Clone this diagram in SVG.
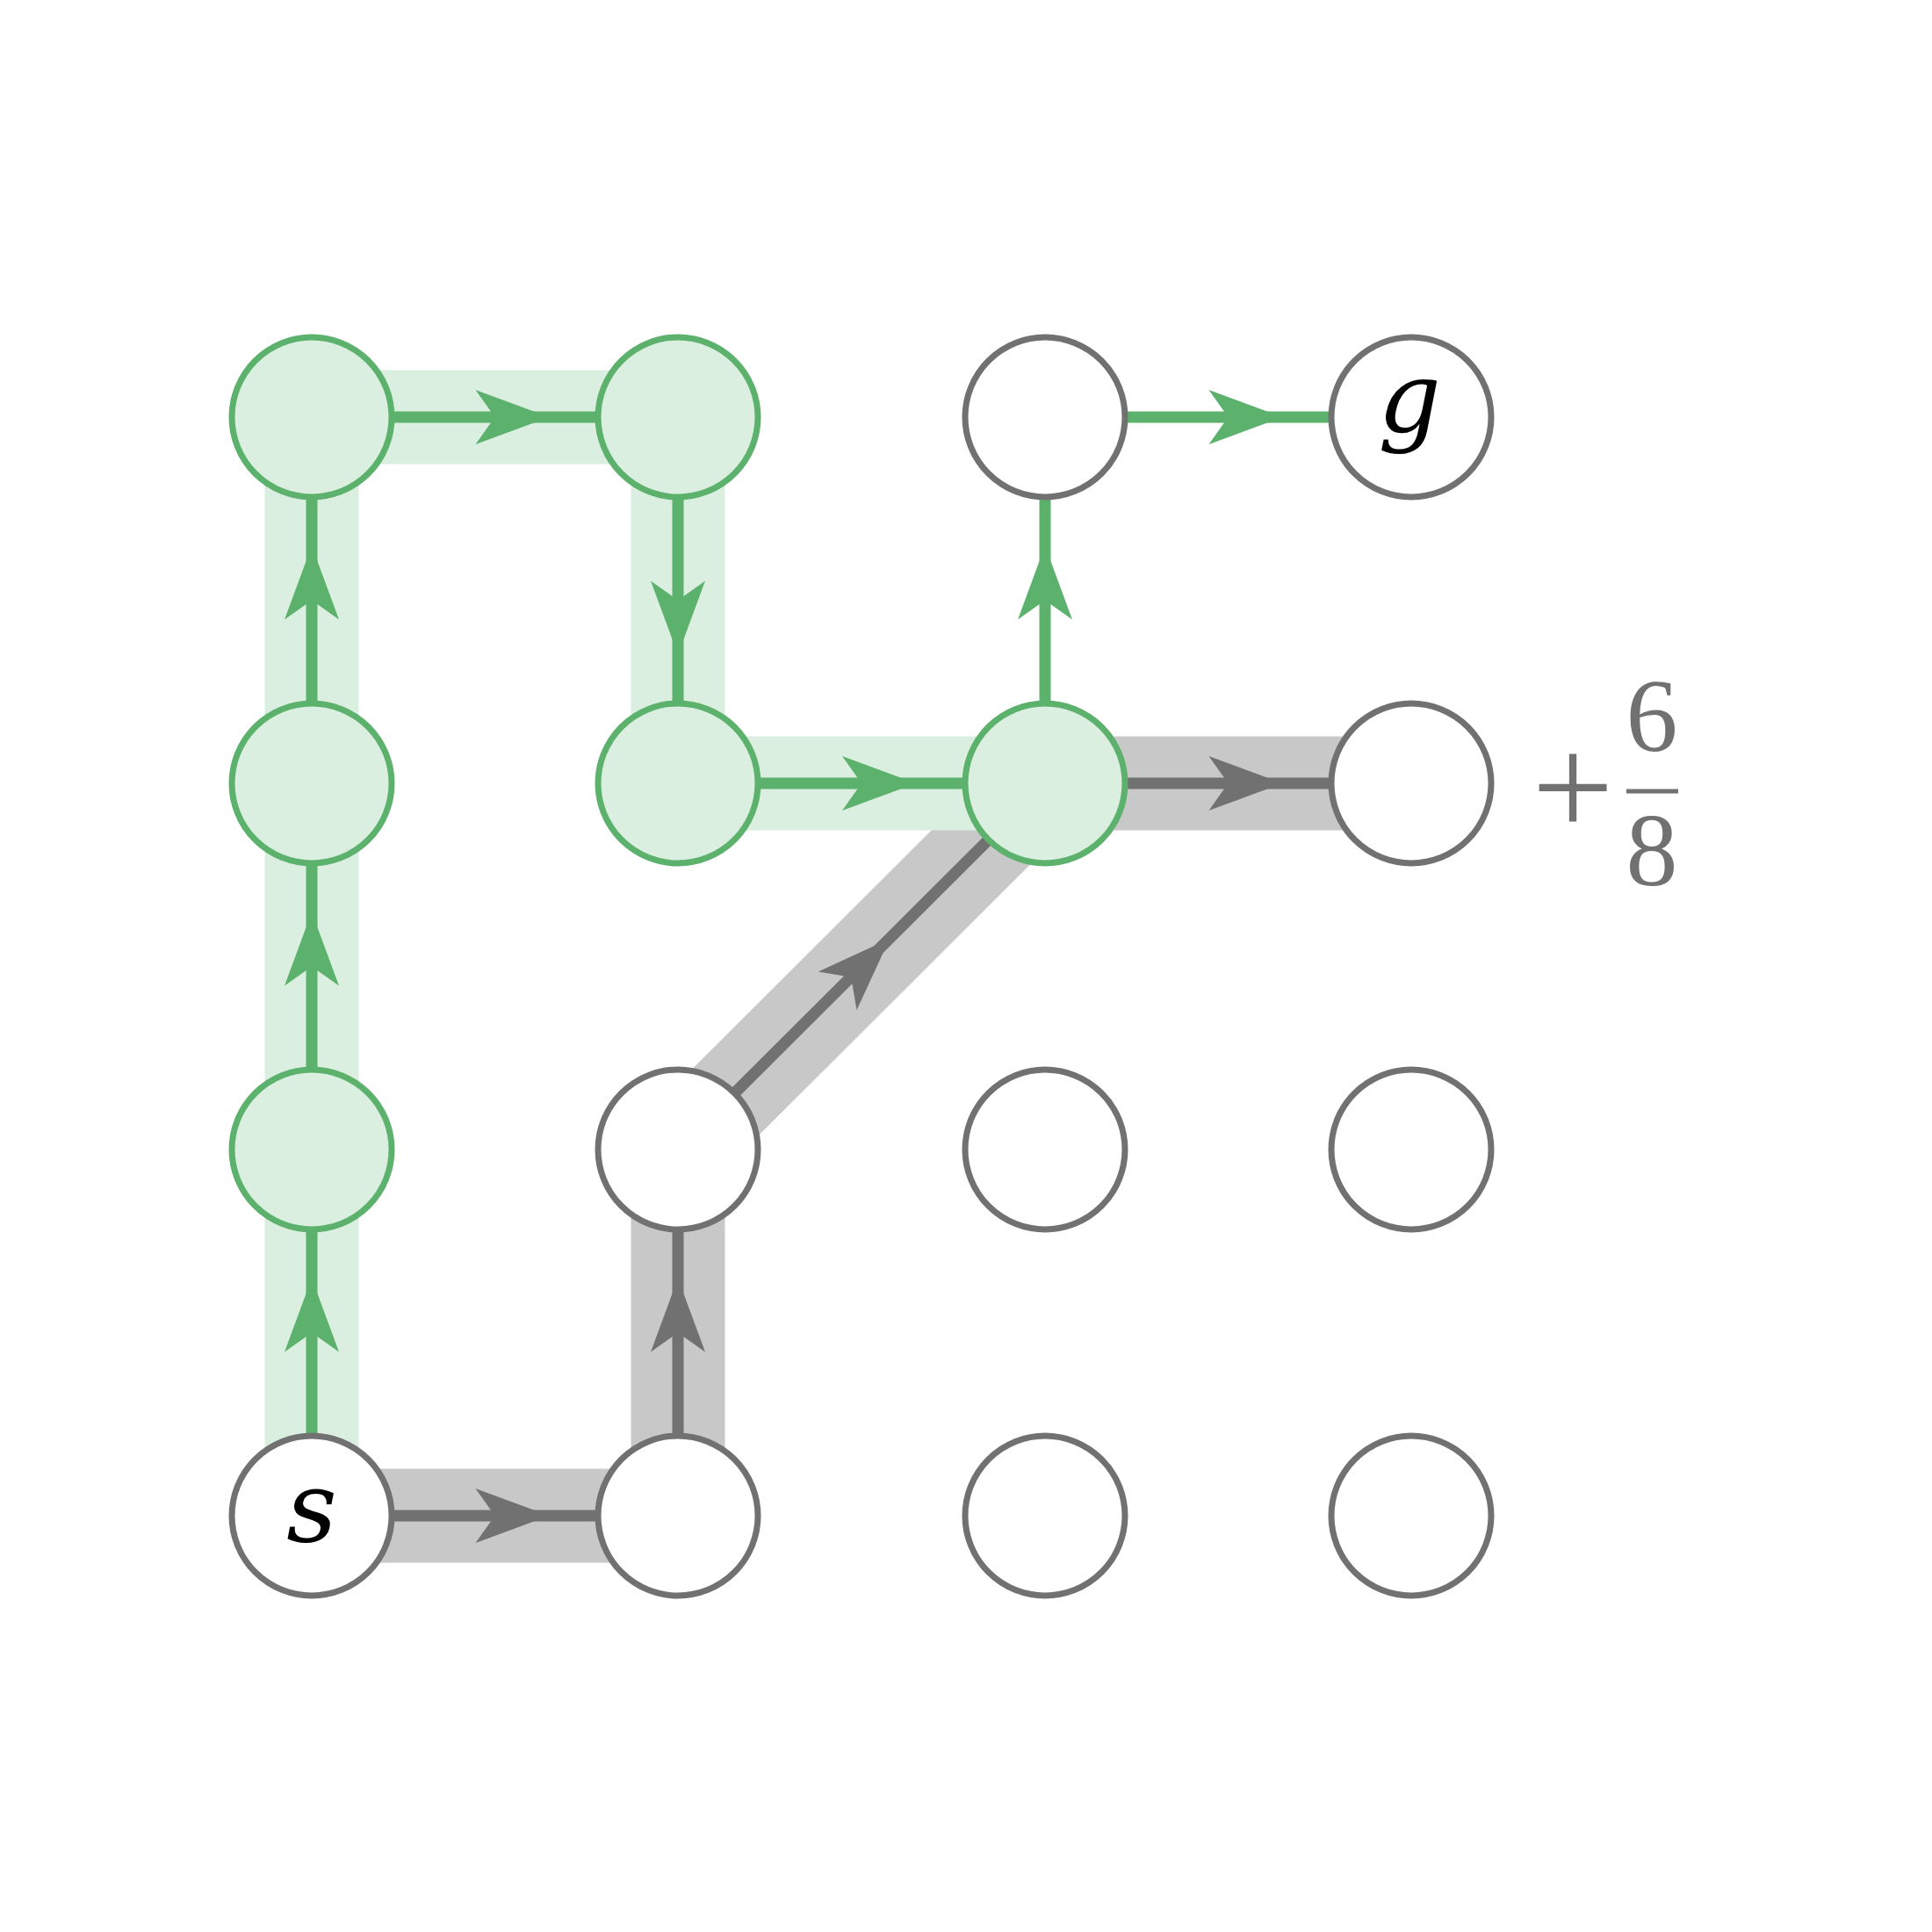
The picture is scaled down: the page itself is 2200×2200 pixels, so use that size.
<svg xmlns="http://www.w3.org/2000/svg" xmlns:xlink="http://www.w3.org/1999/xlink" width="2200" height="2200" viewBox="0 0 2200 2200">
  <defs>
    <style>
      .band-g { fill: none; stroke: #dbefe0; stroke-width: 107; stroke-linejoin: miter; }
      .band-k { fill: none; stroke: #c8c8c8; stroke-width: 107; stroke-linejoin: miter; }
      .edge-g { stroke: #5cb16d; stroke-width: 13; fill: none; }
      .edge-k { stroke: #717171; stroke-width: 13; fill: none; }
      .head-g { fill: #5cb16d; }
      .head-k { fill: #717171; }
      .node-g { fill: #dbefe0; stroke: #5cb16d; stroke-width: 7; }
      .node-w { fill: #ffffff; stroke: #717171; stroke-width: 7; }
      .lbl { font-family: "DejaVu Serif", "Liberation Serif", serif; font-style: italic; font-size: 112px; fill: #000000; text-anchor: middle; }
      .num { font-family: "Liberation Serif", "DejaVu Serif", serif; font-size: 118px; fill: #717171; text-anchor: middle; }
    </style>
    <path id="ah" d="M0,0 L-84,-31 L-62,0 L-84,31 Z"/>
  </defs>
  <rect width="2200" height="2200" fill="#ffffff"/>

  <g id="highlights">
    <polyline class="band-k" points="355,1726 772,1726 772,1309 1190,892 1607,892"/>
    <polyline class="band-g" points="355,1726 355,475 772,475 772,892 1190,892"/>
  </g>

  <g id="connectors">
    <line class="edge-g" x1="355" y1="1726" x2="355" y2="1309"/>
    <line class="edge-g" x1="355" y1="1309" x2="355" y2="892"/>
    <line class="edge-g" x1="355" y1="892" x2="355" y2="475"/>
    <line class="edge-g" x1="355" y1="475" x2="772" y2="475"/>
    <line class="edge-g" x1="772" y1="475" x2="772" y2="892"/>
    <line class="edge-g" x1="772" y1="892" x2="1190" y2="892"/>
    <line class="edge-g" x1="1190" y1="892" x2="1190" y2="475"/>
    <line class="edge-g" x1="1190" y1="475" x2="1607" y2="475"/>
    <line class="edge-k" x1="355" y1="1726" x2="772" y2="1726"/>
    <line class="edge-k" x1="772" y1="1726" x2="772" y2="1309"/>
    <line class="edge-k" x1="772" y1="1309" x2="1190" y2="892"/>
    <line class="edge-k" x1="1190" y1="892" x2="1607" y2="892"/>

    <use xlink:href="#ah" class="head-g" transform="translate(355,1455.5) rotate(-90)"/>
    <use xlink:href="#ah" class="head-g" transform="translate(355,1038.5) rotate(-90)"/>
    <use xlink:href="#ah" class="head-g" transform="translate(355,621.5) rotate(-90)"/>
    <use xlink:href="#ah" class="head-g" transform="translate(625.5,475)"/>
    <use xlink:href="#ah" class="head-g" transform="translate(772,745.5) rotate(90)"/>
    <use xlink:href="#ah" class="head-g" transform="translate(1043,892)"/>
    <use xlink:href="#ah" class="head-g" transform="translate(1190,621.5) rotate(-90)"/>
    <use xlink:href="#ah" class="head-g" transform="translate(1460.5,475)"/>
    <use xlink:href="#ah" class="head-k" transform="translate(625.5,1726)"/>
    <use xlink:href="#ah" class="head-k" transform="translate(772,1455.5) rotate(-90)"/>
    <use xlink:href="#ah" class="head-k" transform="translate(1013,1069) rotate(-45)"/>
    <use xlink:href="#ah" class="head-k" transform="translate(1460.5,892)"/>
  </g>

  <g id="n00"><circle class="node-g" cx="355" cy="475" r="91"/></g>
  <g id="n10"><circle class="node-g" cx="772" cy="475" r="91"/></g>
  <g id="n20"><circle class="node-w" cx="1190" cy="475" r="91"/></g>
  <g id="n30"><circle class="node-w" cx="1607" cy="475" r="91"/><text class="lbl" x="1605" y="492">g</text></g>

  <g id="n01"><circle class="node-g" cx="355" cy="892" r="91"/></g>
  <g id="n11"><circle class="node-g" cx="772" cy="892" r="91"/></g>
  <g id="n21"><circle class="node-g" cx="1190" cy="892" r="91"/></g>
  <g id="n31"><circle class="node-w" cx="1607" cy="892" r="91"/></g>

  <g id="n02"><circle class="node-g" cx="355" cy="1309" r="91"/></g>
  <g id="n12"><circle class="node-w" cx="772" cy="1309" r="91"/></g>
  <g id="n22"><circle class="node-w" cx="1190" cy="1309" r="91"/></g>
  <g id="n32"><circle class="node-w" cx="1607" cy="1309" r="91"/></g>

  <g id="n03"><circle class="node-w" cx="355" cy="1726" r="91"/><text class="lbl" x="355" y="1755">s</text></g>
  <g id="n13"><circle class="node-w" cx="772" cy="1726" r="91"/></g>
  <g id="n23"><circle class="node-w" cx="1190" cy="1726" r="91"/></g>
  <g id="n33"><circle class="node-w" cx="1607" cy="1726" r="91"/></g>

  <g id="score">
    <text class="num" x="1791" y="952" style="font-size:165px">+</text>
    <text class="num" x="1881" y="855">6</text>
    <line x1="1852" y1="901" x2="1911" y2="901" stroke="#717171" stroke-width="5"/>
    <text class="num" x="1881" y="1008">8</text>
  </g>
</svg>
